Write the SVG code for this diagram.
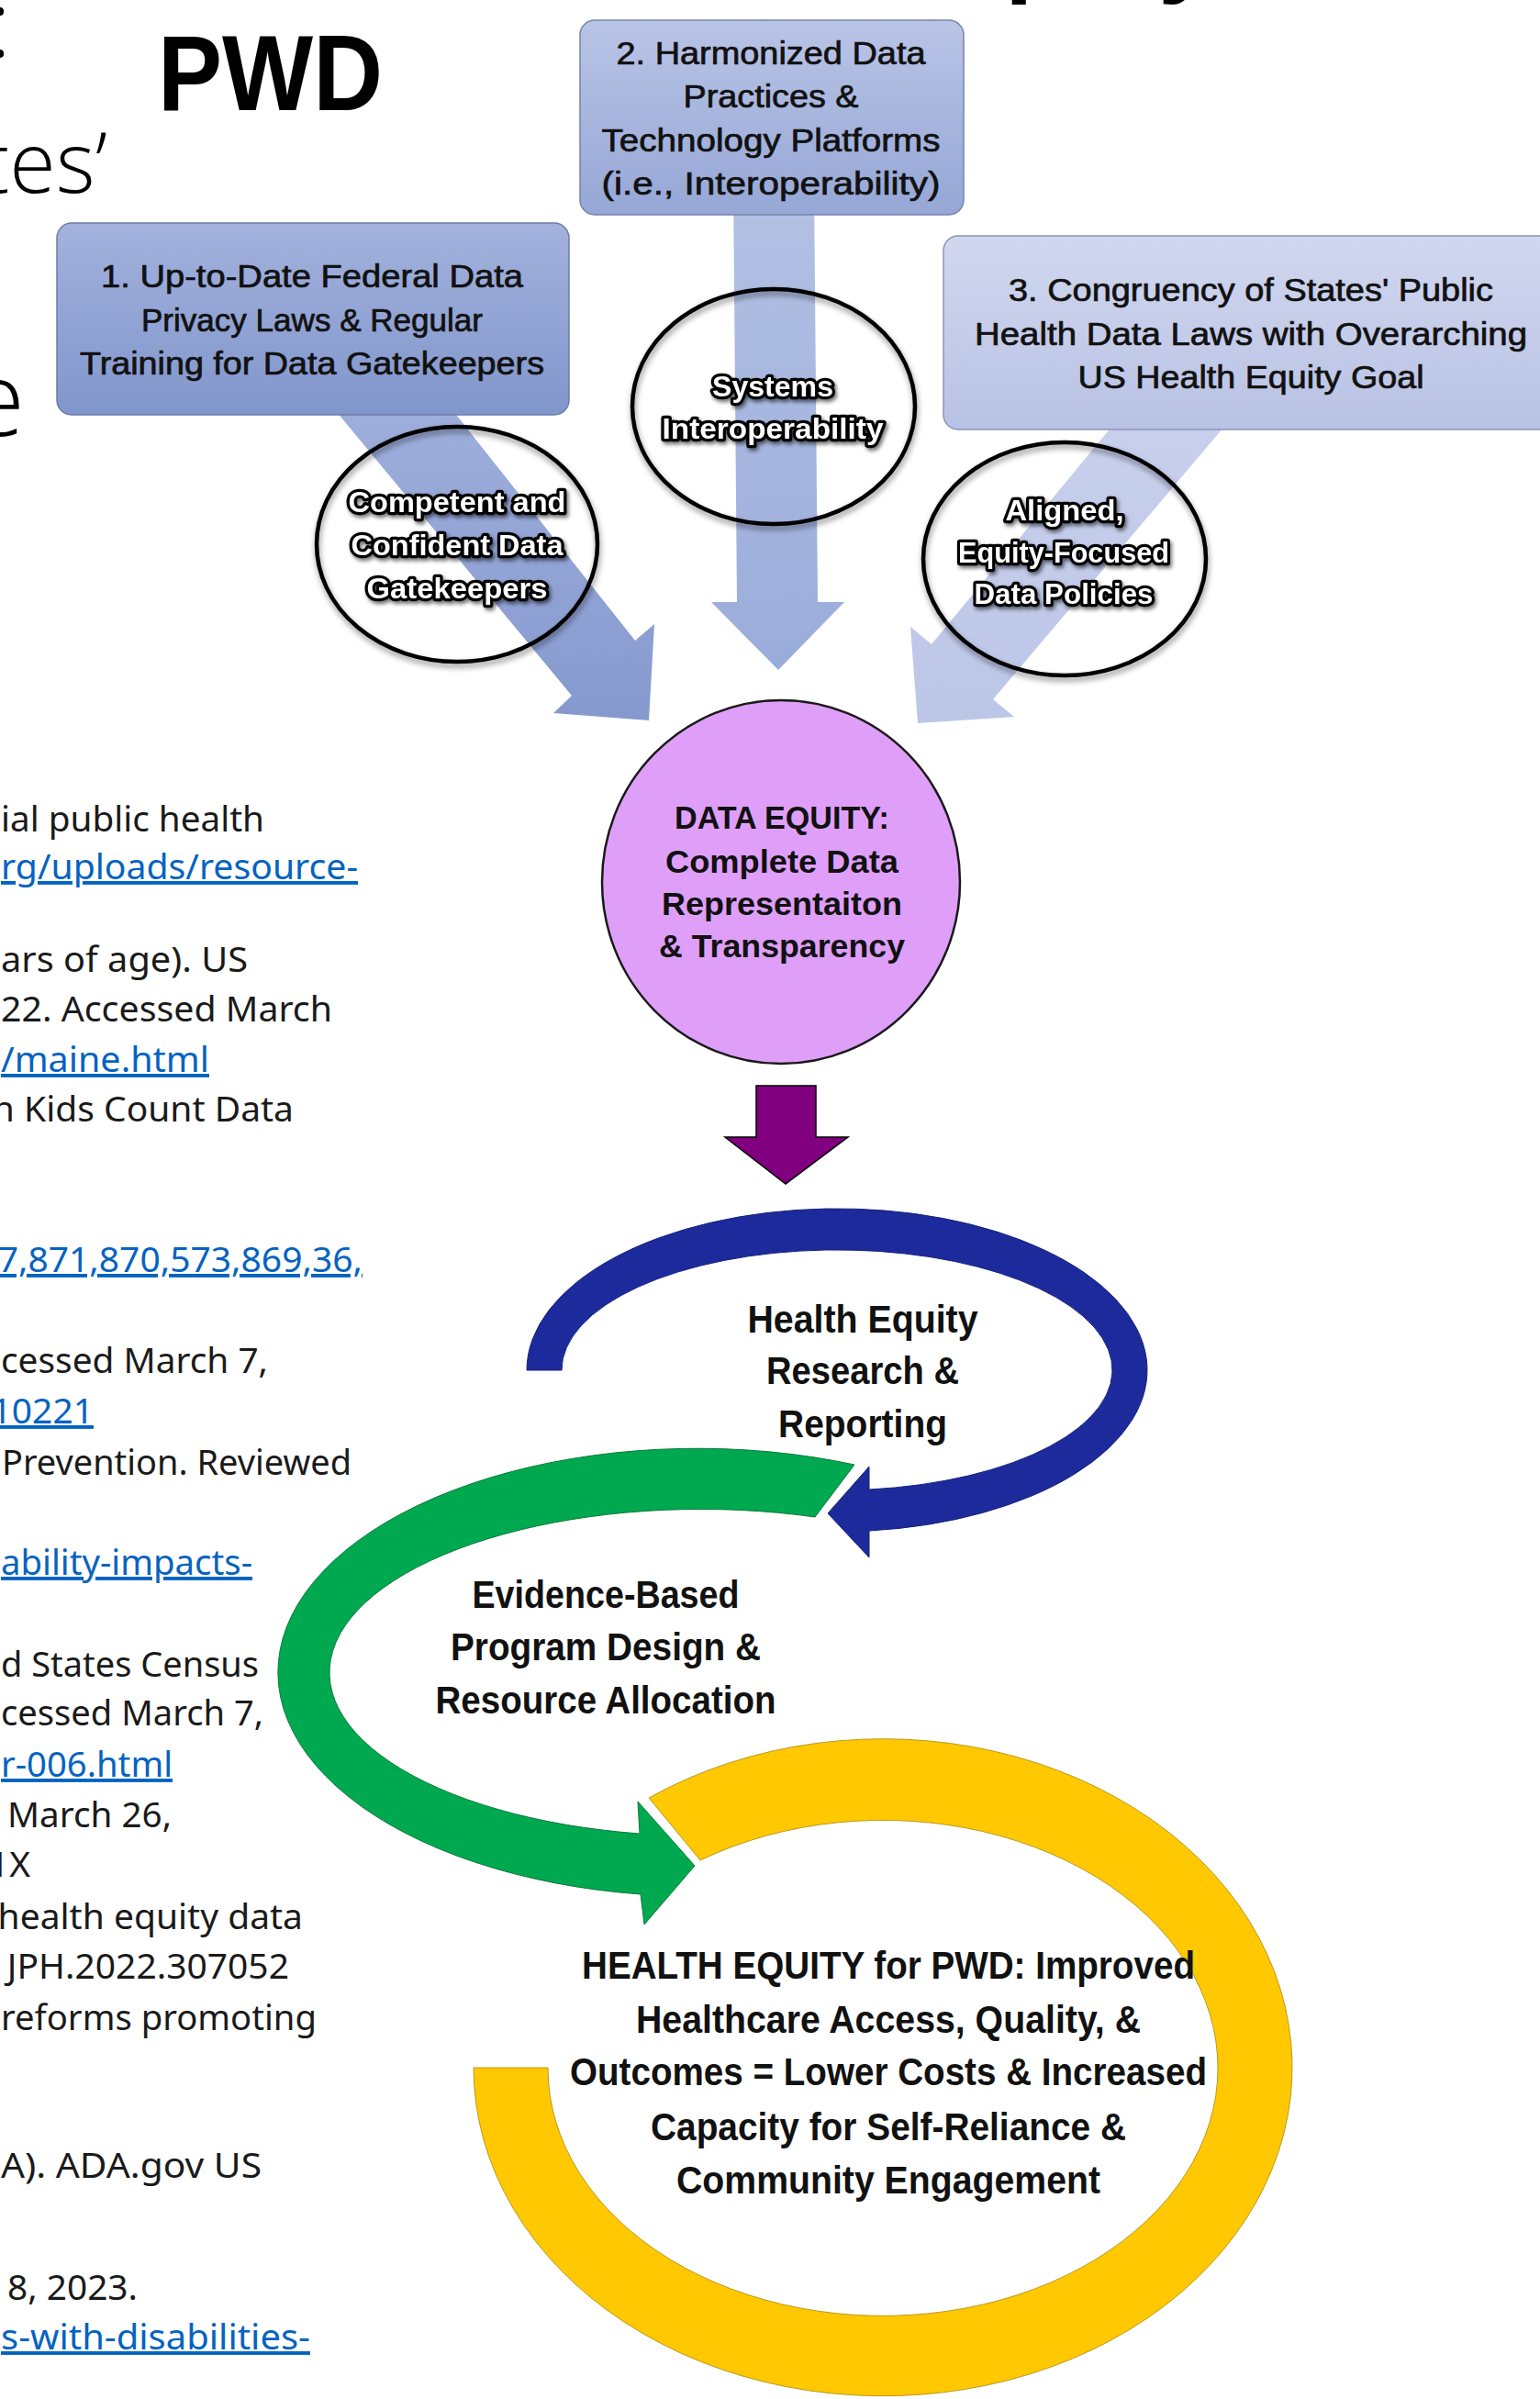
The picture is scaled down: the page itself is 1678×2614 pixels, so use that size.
<svg xmlns="http://www.w3.org/2000/svg" width="1678" height="2614" viewBox="0 0 1678 2614">
<style>
.ref{font-family:"Noto Sans","Open Sans",sans-serif;font-size:39px;fill:#1a1a1a;text-anchor:end}
.rs{text-anchor:start}
.lnk{fill:#0563C1;text-decoration:underline}
.bx{font-family:"Liberation Sans",Arial,sans-serif;font-size:35px;fill:#111;stroke:#111;stroke-width:0.7px;text-anchor:middle}
.ol{font-family:"Liberation Sans",Arial,sans-serif;font-size:32px;font-weight:bold;fill:#fff;stroke:#000;stroke-width:6.5px;stroke-linejoin:round;paint-order:stroke;text-anchor:middle}
.lb{font-family:"Liberation Sans",Arial,sans-serif;font-weight:bold;fill:#111;text-anchor:middle}
.ring{fill:none;stroke:#000;stroke-width:4.5}
.title{font-family:"Open Sans","Noto Sans",sans-serif;font-weight:300;fill:#000}
</style>
<defs>
<linearGradient id="gb1" x1="0" y1="0" x2="0" y2="1"><stop offset="0" stop-color="#a3b2dd"/><stop offset="1" stop-color="#8196cc"/></linearGradient>
<linearGradient id="gb2" x1="0" y1="0" x2="0" y2="1"><stop offset="0" stop-color="#b9c4e6"/><stop offset="1" stop-color="#96a7d6"/></linearGradient>
<linearGradient id="gb3" x1="0" y1="0" x2="0" y2="1"><stop offset="0" stop-color="#d1d7ef"/><stop offset="1" stop-color="#b8c2e4"/></linearGradient>
<linearGradient id="ga1" x1="0" y1="0" x2="0" y2="1"><stop offset="0" stop-color="#a2b2de"/><stop offset="1" stop-color="#8699cf"/></linearGradient>
<linearGradient id="ga2" x1="0" y1="0" x2="0" y2="1"><stop offset="0" stop-color="#b4c1e4"/><stop offset="1" stop-color="#9aacda"/></linearGradient>
<linearGradient id="ga3" x1="0" y1="0" x2="0" y2="1"><stop offset="0" stop-color="#c8d0ec"/><stop offset="1" stop-color="#bcc6e7"/></linearGradient>
<filter id="sh" x="-20%" y="-20%" width="140%" height="140%"><feDropShadow dx="1" dy="4" stdDeviation="3" flood-color="#000" flood-opacity="0.45"/></filter>
<filter id="tsh" x="-10%" y="-30%" width="120%" height="160%"><feDropShadow dx="2" dy="3" stdDeviation="2" flood-color="#000" flood-opacity="0.55"/></filter>
</defs>
<rect width="1678" height="2614" fill="#fff"/>

<g id="slide-fragments">
<text x="12" y="62" class="title" font-size="100" text-anchor="end" font-weight="bold">:</text>
<text x="172" y="120" font-family="'Liberation Sans',Arial,sans-serif" font-weight="bold" font-size="116" textLength="245" lengthAdjust="spacingAndGlyphs">PWD</text>
<text x="117" y="210" class="title" font-size="92" text-anchor="end">tes’</text>
<text x="27" y="475" class="title" font-size="112" text-anchor="end">e</text>
<text x="1095" y="-18" font-family="'Liberation Sans',Arial,sans-serif" font-weight="bold" font-size="110">p</text>
<text x="1262" y="-18" font-family="'Liberation Sans',Arial,sans-serif" font-weight="bold" font-size="110">y</text>
</g>

<g id="references">
<text class="ref rs" x="1" y="906" textLength="287" lengthAdjust="spacingAndGlyphs">ial public health</text>
<text class="ref rs lnk" x="1" y="958" textLength="389" lengthAdjust="spacingAndGlyphs">rg/uploads/resource-</text>
<text class="ref rs" x="1" y="1059" textLength="269" lengthAdjust="spacingAndGlyphs">ars of age). US</text>
<text class="ref rs" x="1" y="1113" textLength="361" lengthAdjust="spacingAndGlyphs">22. Accessed March</text>
<text class="ref rs lnk" x="1" y="1168" textLength="227" lengthAdjust="spacingAndGlyphs">/maine.html</text>
<text class="ref" x="320" y="1222">n Kids Count Data</text>
<text class="ref lnk" x="395" y="1386">7,871,870,573,869,36,</text>
<text class="ref rs" x="1" y="1496" textLength="291" lengthAdjust="spacingAndGlyphs">cessed March 7,</text>
<text class="ref lnk" x="102" y="1551">10221</text>
<text class="ref rs" x="2" y="1607" textLength="381" lengthAdjust="spacingAndGlyphs">Prevention. Reviewed</text>
<text class="ref rs lnk" x="1" y="1716" textLength="274" lengthAdjust="spacingAndGlyphs">ability-impacts-</text>
<text class="ref rs" x="1" y="1827" textLength="281" lengthAdjust="spacingAndGlyphs">d States Census</text>
<text class="ref rs" x="1" y="1880" textLength="286" lengthAdjust="spacingAndGlyphs">cessed March 7,</text>
<text class="ref rs lnk" x="1" y="1936" textLength="187" lengthAdjust="spacingAndGlyphs">r-006.html</text>
<text class="ref rs" x="8" y="1991" textLength="179" lengthAdjust="spacingAndGlyphs">March 26,</text>
<text class="ref" x="33" y="2045">1X</text>
<text class="ref" x="330" y="2102">health equity data</text>
<text class="ref" x="315" y="2156">JPH.2022.307052</text>
<text class="ref rs" x="1" y="2212" textLength="344" lengthAdjust="spacingAndGlyphs">reforms promoting</text>
<text class="ref rs" x="1" y="2373" textLength="284" lengthAdjust="spacingAndGlyphs">A). ADA.gov US</text>
<text class="ref rs" x="8" y="2506" textLength="142" lengthAdjust="spacingAndGlyphs">8, 2023.</text>
<text class="ref rs lnk" x="1" y="2560" textLength="337" lengthAdjust="spacingAndGlyphs">s-with-disabilities-</text>
</g>

<g id="connectors">
<polygon id="arrow-1" fill="url(#ga1)" points="318,390 448,390 692,698 713,680 707,785 603,777 623,758"/>
<polygon id="arrow-2" fill="url(#ga2)" points="799,200 887,200 891,656 920,656 848,730 775,656 803,656"/>
<polygon id="arrow-3" fill="url(#ga3)" points="1232,440 1355,440 1082,762 1105,781 1000,788 992,683 1015,702"/>
<polygon id="arrow-4" fill="#800080" stroke="#000" stroke-width="1.5" points="824,1183 889,1183 889,1239 924,1239 856,1290 790,1239 824,1239"/>
</g>

<g id="box-1">
<rect x="62" y="243" width="558" height="209" rx="16" fill="url(#gb1)" stroke="#6d7ca6" stroke-width="1.5"/>
<text class="bx" x="340" y="313" textLength="460" lengthAdjust="spacingAndGlyphs">1. Up-to-Date Federal Data</text>
<text class="bx" x="340" y="361" textLength="372" lengthAdjust="spacingAndGlyphs">Privacy Laws &amp; Regular</text>
<text class="bx" x="340" y="408" textLength="506" lengthAdjust="spacingAndGlyphs">Training for Data Gatekeepers</text>
</g>

<g id="box-2">
<rect x="632" y="22" width="418" height="212" rx="16" fill="url(#gb2)" stroke="#7584ad" stroke-width="1.5"/>
<text class="bx" x="840" y="70" textLength="337" lengthAdjust="spacingAndGlyphs">2. Harmonized Data</text>
<text class="bx" x="840" y="117" textLength="191" lengthAdjust="spacingAndGlyphs">Practices &amp;</text>
<text class="bx" x="840" y="165" textLength="369" lengthAdjust="spacingAndGlyphs">Technology Platforms</text>
<text class="bx" x="840" y="212" textLength="369" lengthAdjust="spacingAndGlyphs">(i.e., Interoperability)</text>
</g>

<g id="box-3">
<rect x="1028" y="257" width="680" height="211" rx="16" fill="url(#gb3)" stroke="#8a95b8" stroke-width="1.5"/>
<text class="bx" x="1363" y="328" textLength="528" lengthAdjust="spacingAndGlyphs">3. Congruency of States' Public</text>
<text class="bx" x="1363" y="376" textLength="602" lengthAdjust="spacingAndGlyphs">Health Data Laws with Overarching</text>
<text class="bx" x="1363" y="423" textLength="377" lengthAdjust="spacingAndGlyphs">US Health Equity Goal</text>
</g>

<g id="circle-1">
<ellipse class="ring" cx="498" cy="593" rx="153" ry="128" filter="url(#sh)"/>
<g filter="url(#tsh)">
<text class="ol" x="498" y="558" textLength="237" lengthAdjust="spacingAndGlyphs">Competent and</text>
<text class="ol" x="498" y="605" textLength="231" lengthAdjust="spacingAndGlyphs">Confident Data</text>
<text class="ol" x="498" y="652" textLength="197" lengthAdjust="spacingAndGlyphs">Gatekeepers</text>
</g>
</g>

<g id="circle-2">
<ellipse class="ring" cx="843" cy="443" rx="154" ry="128" filter="url(#sh)"/>
<g filter="url(#tsh)">
<text class="ol" x="842" y="432" textLength="132" lengthAdjust="spacingAndGlyphs">Systems</text>
<text class="ol" x="842" y="478" textLength="241" lengthAdjust="spacingAndGlyphs">Interoperability</text>
</g>
</g>

<g id="circle-3">
<ellipse class="ring" cx="1160" cy="609" rx="154" ry="127" filter="url(#sh)"/>
<g filter="url(#tsh)">
<text class="ol" x="1160" y="567" textLength="129" lengthAdjust="spacingAndGlyphs">Aligned,</text>
<text class="ol" x="1159" y="613" textLength="230" lengthAdjust="spacingAndGlyphs">Equity-Focused</text>
<text class="ol" x="1159" y="658" textLength="195" lengthAdjust="spacingAndGlyphs">Data Policies</text>
</g>
</g>

<g id="data-equity">
<ellipse cx="851" cy="961" rx="195" ry="198" fill="#df9ff9" stroke="#1a1a1a" stroke-width="2.5"/>
<text class="lb" font-size="35" x="852" y="903" textLength="234" lengthAdjust="spacingAndGlyphs">DATA EQUITY:</text>
<text class="lb" font-size="35" x="852" y="951" textLength="254" lengthAdjust="spacingAndGlyphs">Complete Data</text>
<text class="lb" font-size="35" x="852" y="997" textLength="262" lengthAdjust="spacingAndGlyphs">Representaiton</text>
<text class="lb" font-size="35" x="852" y="1043" textLength="268" lengthAdjust="spacingAndGlyphs">&amp; Transparency</text>
</g>

<g id="research-reporting">
<path fill="#1c2a9c" stroke="#16207a" stroke-width="1" d="M574,1493 A338,176 0 1 1 947,1668 L947,1697 L902,1649 L947,1598 L947,1623 A300,131 0 1 0 612,1493 Z"/>
<text class="lb" font-size="42" x="940" y="1452" textLength="251" lengthAdjust="spacingAndGlyphs">Health Equity</text>
<text class="lb" font-size="42" x="940" y="1508" textLength="210" lengthAdjust="spacingAndGlyphs">Research &amp;</text>
<text class="lb" font-size="42" x="940" y="1566" textLength="184" lengthAdjust="spacingAndGlyphs">Reporting</text>
</g>

<g id="program-design">
<path fill="#00a84f" stroke="#0b7a3a" stroke-width="1" d="M931,1596 A457,244 0 1 0 698,2064 L702,2097 L757,2033 L695,1963 L697,1998 A405,178 0 1 1 888,1653 Z"/>
<text class="lb" font-size="42" x="660" y="1752" textLength="291" lengthAdjust="spacingAndGlyphs">Evidence-Based</text>
<text class="lb" font-size="42" x="660" y="1809" textLength="338" lengthAdjust="spacingAndGlyphs">Program Design &amp;</text>
<text class="lb" font-size="42" x="660" y="1867" textLength="371" lengthAdjust="spacingAndGlyphs">Resource Allocation</text>
</g>

<g id="health-equity">
<path fill="#ffc800" stroke="#b89a20" stroke-width="1" d="M707,1959 A446,358 0 1 1 516,2253 L597,2253 A365,270 0 1 0 763,2027 Z"/>
<text class="lb" font-size="42" x="968" y="2156" textLength="668" lengthAdjust="spacingAndGlyphs">HEALTH EQUITY for PWD: Improved</text>
<text class="lb" font-size="42" x="968" y="2215" textLength="550" lengthAdjust="spacingAndGlyphs">Healthcare Access, Quality, &amp;</text>
<text class="lb" font-size="42" x="968" y="2272" textLength="694" lengthAdjust="spacingAndGlyphs">Outcomes = Lower Costs &amp; Increased</text>
<text class="lb" font-size="42" x="968" y="2332" textLength="518" lengthAdjust="spacingAndGlyphs">Capacity for Self-Reliance &amp;</text>
<text class="lb" font-size="42" x="968" y="2390" textLength="462" lengthAdjust="spacingAndGlyphs">Community Engagement</text>
</g>
</svg>
